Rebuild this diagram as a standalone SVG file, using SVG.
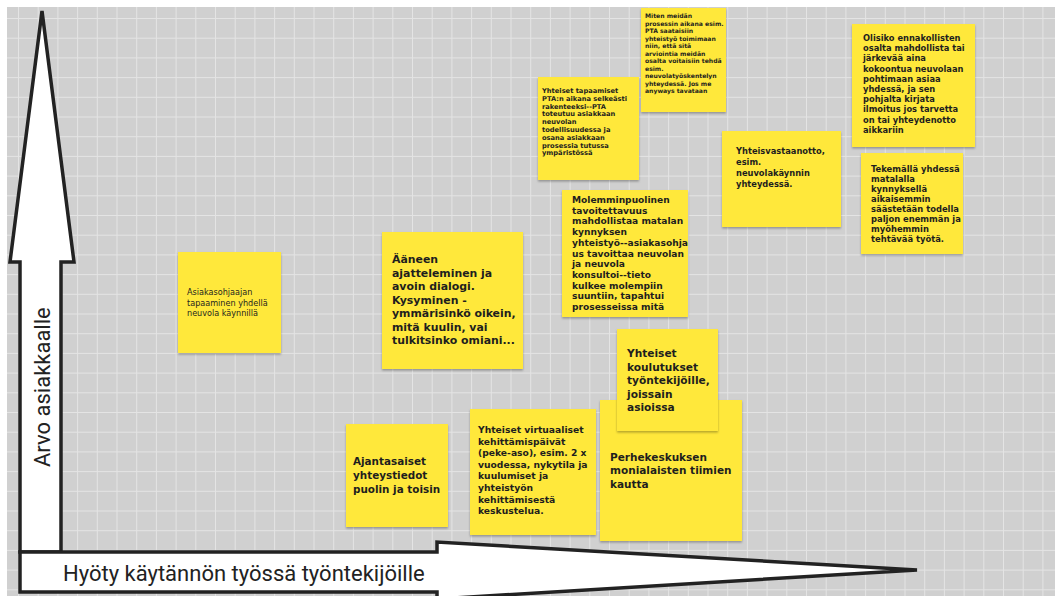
<svg xmlns="http://www.w3.org/2000/svg" width="1055" height="596" viewBox="0 0 1055 596">
<style>
.note{fill:#ffe83a;filter:url(#sh)}
.t{font-family:"DejaVu Sans","Open Sans",sans-serif;font-weight:700;fill:#1e1e1e}
.ax{fill:#fff;stroke:#222;stroke-width:3.5;stroke-linejoin:miter}
.lab{font-family:Roboto,"Liberation Sans",sans-serif;font-weight:400;fill:#222;font-size:22px}
</style>
<defs>
<pattern id="grid" patternUnits="userSpaceOnUse" x="18" y="18" width="19.7" height="19.7">
<rect width="19.7" height="19.7" fill="#d0d0d0"/>
<path d="M0 0H19.7M0 0V19.7" stroke="#e4e4e4" stroke-width="2"/>
</pattern>
<filter id="sh" x="-5%" y="-5%" width="110%" height="115%">
<feDropShadow dx="0" dy="1.5" stdDeviation="1" flood-color="#000" flood-opacity="0.3"/>
</filter>
</defs>
<rect width="1055" height="596" fill="#ffffff"/>
<rect x="7" y="7" width="1048" height="589" fill="url(#grid)"/>

<g id="connectors">
<polygon class="ax" points="42,11 74,262 61,262 61,552 20,552 20,262 10,262"/>
<polygon class="ax" points="20,552 437,552 437,542 917,570 437,599 437,592 20,592"/>
<text class="lab" x="63" y="581">Hyöty käytännön työssä työntekijöille</text>
<text class="lab" transform="translate(50,467) rotate(-90)">Arvo asiakkaalle</text>
</g>

<g id="n1">
<rect class="note" x="178" y="252" width="103" height="101"/>
<text class="t" style="font-weight:400" font-size="8.1" x="187" y="295"><tspan x="187">Asiakasohjaajan</tspan><tspan x="187" dy="10.5">tapaaminen yhdellä</tspan><tspan x="187" dy="10.5">neuvola käynnillä</tspan></text>
</g>

<g id="n2">
<rect class="note" x="382" y="232" width="141" height="137"/>
<text class="t" font-size="10.9" x="392" y="263"><tspan x="392">Ääneen</tspan><tspan x="392" dy="13.5">ajatteleminen ja</tspan><tspan x="392" dy="13.5">avoin dialogi.</tspan><tspan x="392" dy="13.5">Kysyminen -</tspan><tspan x="392" dy="13.5">ymmärisinkö oikein,</tspan><tspan x="392" dy="13.5">mitä kuulin, vai</tspan><tspan x="392" dy="13.5">tulkitsinko omiani...</tspan></text>
</g>

<g id="n3">
<rect class="note" x="538" y="77" width="101" height="103"/>
<text class="t" font-size="6.7" x="542" y="93"><tspan x="542">Yhteiset tapaamiset</tspan><tspan x="542" dy="7.8">PTA:n aikana selkeästi</tspan><tspan x="542" dy="7.8">rakenteeksi--PTA</tspan><tspan x="542" dy="7.8">toteutuu asiakkaan</tspan><tspan x="542" dy="7.8">neuvolan</tspan><tspan x="542" dy="7.8">todellisuudessa ja</tspan><tspan x="542" dy="7.8">osana asiakkaan</tspan><tspan x="542" dy="7.8">prosessia tutussa</tspan><tspan x="542" dy="7.8">ympäristössä</tspan></text>
</g>

<g id="n4">
<rect class="note" x="641" y="8" width="85" height="104"/>
<text class="t" font-size="6.1" x="645" y="18"><tspan x="645">Miten meidän</tspan><tspan x="645" dy="7.5">prosessin aikana esim.</tspan><tspan x="645" dy="7.5">PTA saataisiin</tspan><tspan x="645" dy="7.5">yhteistyö toimimaan</tspan><tspan x="645" dy="7.5">niin, että sitä</tspan><tspan x="645" dy="7.5">arviointia meidän</tspan><tspan x="645" dy="7.5">osalta voitaisiin tehdä</tspan><tspan x="645" dy="7.5">esim.</tspan><tspan x="645" dy="7.5">neuvolatyöskentelyn</tspan><tspan x="645" dy="7.5">yhteydessä. Jos me</tspan><tspan x="645" dy="7.5">anyways tavataan</tspan></text>
</g>

<g id="n5">
<rect class="note" x="722" y="131" width="119" height="96"/>
<text class="t" font-size="8.3" x="736" y="154"><tspan x="736">Yhteisvastaanotto,</tspan><tspan x="736" dy="11">esim.</tspan><tspan x="736" dy="11">neuvolakäynnin</tspan><tspan x="736" dy="11">yhteydessä.</tspan></text>
</g>

<g id="n6">
<rect class="note" x="852" y="24" width="123" height="123"/>
<text class="t" font-size="8.3" x="863" y="41"><tspan x="863">Olisiko ennakollisten</tspan><tspan x="863" dy="10.2">osalta mahdollista tai</tspan><tspan x="863" dy="10.2">järkevää aina</tspan><tspan x="863" dy="10.2">kokoontua neuvolaan</tspan><tspan x="863" dy="10.2">pohtimaan asiaa</tspan><tspan x="863" dy="10.2">yhdessä, ja sen</tspan><tspan x="863" dy="10.2">pohjalta kirjata</tspan><tspan x="863" dy="10.2">ilmoitus jos tarvetta</tspan><tspan x="863" dy="10.2">on tai yhteydenotto</tspan><tspan x="863" dy="10.2">aikkariin</tspan></text>
</g>

<g id="n7">
<rect class="note" x="861" y="153" width="102" height="101"/>
<text class="t" font-size="8.4" x="871" y="172"><tspan x="871">Tekemällä yhdessä</tspan><tspan x="871" dy="10">matalalla</tspan><tspan x="871" dy="10">kynnyksellä</tspan><tspan x="871" dy="10">aikaisemmin</tspan><tspan x="871" dy="10">säästetään todella</tspan><tspan x="871" dy="10">paljon enemmän ja</tspan><tspan x="871" dy="10">myöhemmin</tspan><tspan x="871" dy="10">tehtävää työtä.</tspan></text>
</g>

<g id="n8">
<rect class="note" x="562" y="190" width="126" height="127"/>
<text class="t" font-size="9.1" x="572" y="203"><tspan x="572">Molemminpuolinen</tspan><tspan x="572" dy="10.7">tavoitettavuus</tspan><tspan x="572" dy="10.7">mahdollistaa matalan</tspan><tspan x="572" dy="10.7">kynnyksen</tspan><tspan x="572" dy="10.7">yhteistyö--asiakasohja</tspan><tspan x="572" dy="10.7">us tavoittaa neuvolan</tspan><tspan x="572" dy="10.7">ja neuvola</tspan><tspan x="572" dy="10.7">konsultoi--tieto</tspan><tspan x="572" dy="10.7">kulkee molempiin</tspan><tspan x="572" dy="10.7">suuntiin, tapahtui</tspan><tspan x="572" dy="10.7">prosesseissa mitä</tspan></text>
</g>

<g id="n10">
<rect class="note" x="600" y="400" width="142" height="141"/>
<text class="t" font-size="10.5" x="610" y="461"><tspan x="610">Perhekeskuksen</tspan><tspan x="610" dy="13.4">monialaisten tiimien</tspan><tspan x="610" dy="13.4">kautta</tspan></text>
</g>

<g id="n9">
<rect class="note" x="617" y="329" width="101" height="102"/>
<text class="t" font-size="10.6" x="627" y="357"><tspan x="627">Yhteiset</tspan><tspan x="627" dy="13.5">koulutukset</tspan><tspan x="627" dy="13.5">työntekijöille,</tspan><tspan x="627" dy="13.5">joissain</tspan><tspan x="627" dy="13.5">asioissa</tspan></text>
</g>

<g id="n11">
<rect class="note" x="346" y="424" width="102" height="103"/>
<text class="t" font-size="10.4" x="353" y="465"><tspan x="353">Ajantasaiset</tspan><tspan x="353" dy="14">yhteystiedot</tspan><tspan x="353" dy="14">puolin ja toisin</tspan></text>
</g>

<g id="n12">
<rect class="note" x="470" y="409" width="126" height="126"/>
<text class="t" font-size="9.2" x="478" y="433"><tspan x="478">Yhteiset virtuaaliset</tspan><tspan x="478" dy="11.6">kehittämispäivät</tspan><tspan x="478" dy="11.6">(peke-aso), esim. 2 x</tspan><tspan x="478" dy="11.6">vuodessa, nykytila ja</tspan><tspan x="478" dy="11.6">kuulumiset ja</tspan><tspan x="478" dy="11.6">yhteistyön</tspan><tspan x="478" dy="11.6">kehittämisestä</tspan><tspan x="478" dy="11.6">keskustelua.</tspan></text>
</g>
</svg>
